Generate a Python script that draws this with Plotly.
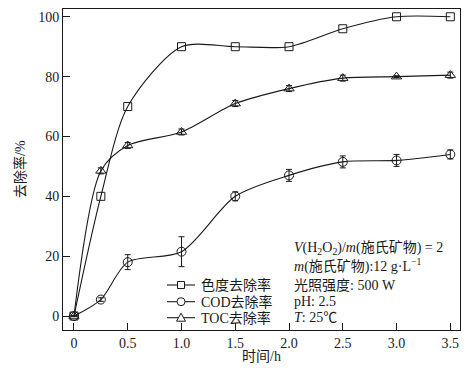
import plotly.graph_objects as go

# ---- data ----
time_h = [0, 0.25, 0.5, 1.0, 1.5, 2.0, 2.5, 3.0, 3.5]
color_removal = [0, 40, 70, 90, 90, 90, 96, 100, 100]
cod_removal = [0, 5.5, 18, 21.5, 40, 47, 51.5, 52, 54]
cod_err = [0, 0.6, 2.5, 5, 1.5, 2, 2, 2, 1.5]
toc_removal = [0, 48.5, 57, 61.5, 71, 76, 79.5, 80, 80.5]
toc_err = [0, 1, 1, 1, 1, 1, 1, 0.3, 1]
x_ticks = [0, 0.5, 1.0, 1.5, 2.0, 2.5, 3.0, 3.5]
x_tick_labels = ["0", "0.5", "1.0", "1.5", "2.0", "2.5", "3.0", "3.5"]
y_ticks = [0, 20, 40, 60, 80, 100]
series_names = ["色度去除率", "COD去除率", "TOC去除率"]
x_title = "时间/h"
y_title = "去除率/%"
condition_lines = [
    "<i>V</i>(H<sub>2</sub>O<sub>2</sub>)/<i>m</i>(施氏矿物) = 2",
    "<i>m</i>(施氏矿物):12 g·L<sup>−1</sup>",
    "光照强度: 500 W",
    "pH: 2.5",
    "<i>T</i>: 25℃",
]

FONT = "Liberation Serif, Times New Roman, Noto Sans CJK SC, serif"
BLACK = "#1a1a1a"

# page body margin offsets the figure by 8 px; work in window pixels
OFF = 8
W, H = 473 - OFF, 372 - OFF
# plot area in window pixels: left 63, right 460, top 9, bottom 330
ML = 63 - OFF
MT = 9 - OFF
MR = 473 - 460
MB = 372 - 330
PW, PH = W - ML - MR, H - MT - MB


def px_x(p):  # window px -> paper
    return (p - OFF - ML) / PW


def px_y(p):
    return (H - MB - (p - OFF)) / PH


fig = go.Figure()

line_style = dict(color=BLACK, width=1.1, shape="spline", smoothing=0.8)
fig.add_trace(go.Scatter(
    x=time_h, y=color_removal, name=series_names[0],
    mode="lines+markers", line=line_style,
    marker=dict(symbol="square-open", size=8, color=BLACK, line=dict(width=1)),
))
fig.add_trace(go.Scatter(
    x=time_h, y=cod_removal, name=series_names[1],
    mode="lines+markers", line=line_style,
    marker=dict(symbol="circle-open", size=9, color=BLACK, line=dict(width=1)),
    error_y=dict(type="data", array=cod_err, color=BLACK, thickness=1, width=3),
))
fig.add_trace(go.Scatter(
    x=time_h, y=toc_removal, name=series_names[2],
    mode="lines+markers", line=line_style,
    marker=dict(symbol="triangle-up-open", size=9, color=BLACK, line=dict(width=1)),
    error_y=dict(type="data", array=toc_err, color=BLACK, thickness=1, width=3),
))

# conditions text block
cond_rows_px = [248, 265, 285, 301.7, 317.7]
for txt, yy in zip(condition_lines, cond_rows_px):
    fig.add_annotation(
        x=px_x(292), y=px_y(yy), xref="paper", yref="paper", text=txt, showarrow=False,
        xanchor="left", yanchor="middle", align="left",
        font=dict(family=FONT, size=14, color=BLACK),
    )

# custom compact legend
legend_rows_px = [285, 301.7, 317.7]
legend_symbols = ["square", "circle", "triangle"]
lx0, lx1, lxm, ltext = 167, 195, 181, 199
for name, sym, yy in zip(series_names, legend_symbols, legend_rows_px):
    ya = px_y(yy)
    fig.add_shape(type="line", xref="paper", yref="paper",
                  xsizemode="pixel", ysizemode="pixel", xanchor=px_x(lxm), yanchor=ya,
                  x0=lx0 - lxm, x1=lx1 - lxm, y0=0, y1=0,
                  line=dict(color=BLACK, width=1.1))
    common = dict(xref="paper", yref="paper", xsizemode="pixel", ysizemode="pixel",
                  xanchor=px_x(lxm), yanchor=ya, fillcolor="white",
                  line=dict(color=BLACK, width=1))
    if sym == "square":
        fig.add_shape(type="rect", x0=-3.5, x1=3.5, y0=-3.5, y1=3.5, **common)
    elif sym == "circle":
        fig.add_shape(type="circle", x0=-4, x1=4, y0=-4, y1=4, **common)
    else:
        fig.add_shape(type="path", path="M -4.5,-3.5 L 4.5,-3.5 L 0,4.5 Z", **common)
    fig.add_annotation(
        x=px_x(ltext), y=ya, xref="paper", yref="paper", text=name, showarrow=False,
        xanchor="left", yanchor="middle", font=dict(family=FONT, size=14, color=BLACK),
    )

# axis titles
fig.add_annotation(x=px_x(261), y=px_y(357), xref="paper", yref="paper", text=x_title,
                   showarrow=False, xanchor="center", yanchor="middle",
                   font=dict(family=FONT, size=14, color=BLACK))
fig.add_annotation(x=px_x(20), y=px_y(169), xref="paper", yref="paper", text=y_title,
                   showarrow=False, xanchor="center", yanchor="middle", textangle=-90,
                   font=dict(family=FONT, size=14, color=BLACK))

axis_common = dict(
    showline=True, linecolor=BLACK, linewidth=1, mirror=True,
    ticks="inside", ticklen=7, tickcolor=BLACK, tickwidth=1,
    showgrid=False, zeroline=False, automargin=False,
    tickfont=dict(family=FONT, size=14, color=BLACK),
)

fig.update_xaxes(range=[-0.102, 3.59], tickvals=x_ticks, ticktext=x_tick_labels, **axis_common)
fig.update_yaxes(range=[-4.67, 102.6], tickvals=y_ticks, **axis_common)

fig.update_layout(
    width=W, height=H,
    margin=dict(l=ML, r=MR, t=MT, b=MB),
    paper_bgcolor="white", plot_bgcolor="white",
    font=dict(family=FONT, size=14, color=BLACK),
    showlegend=False,
)

fig.write_html("out.html")
